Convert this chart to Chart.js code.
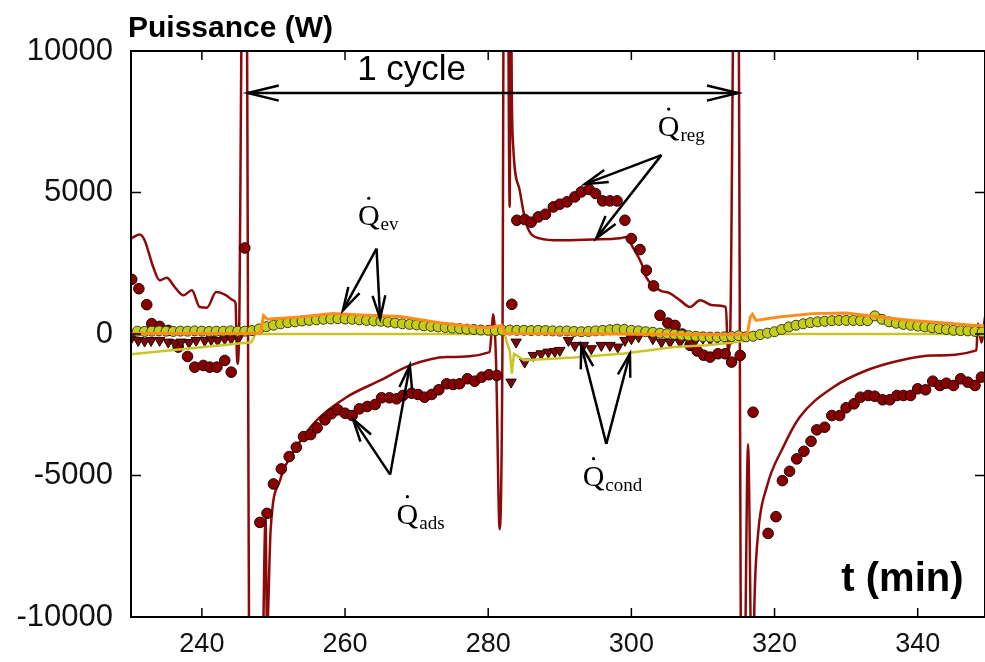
<!DOCTYPE html>
<html>
<head>
<meta charset="utf-8">
<title>Puissance (W)</title>
<script src="https://cdn.jsdelivr.net/npm/chart.js@4.4.1/dist/chart.umd.min.js"></script>
<style>
  html, body { margin: 0; padding: 0; background: #fff; overflow: hidden; }
  #chart { display: block; }
</style>
</head>
<body>
<canvas id="chart" width="985" height="662"></canvas>
<script>
// --- données ---
const xTicks = [240, 260, 280, 300, 320, 340];
const yTicks = [-10000, -5000, 0, 5000, 10000];

// Q ads / Q reg simulé (ligne rouge foncé)
const simT = [230.1, 231.3, 232.0, 233.2, 234.1, 235.1, 236.2, 237.4, 238.6, 239.7, 240.7, 242.0, 243.4, 244.4, 244.7,
  244.95, 245.2, 245.7, 246.2, 246.7, 248.3, 248.9, 249.1, 249.6, 250.9, 253.2, 256.0, 260.2, 264.9, 269.1, 274.2, 280.2,
  280.5, 280.7, 281.1, 281.6, 282.0, 282.2, 282.7, 283.0, 283.15, 283.3, 283.5, 284.4, 285.3, 287.2, 290.0, 294.6, 298.4,
  299.3, 300.2, 301.4, 302.1, 304.0, 305.4, 306.8, 308.2, 309.6, 311.4, 313.2, 313.5, 313.8, 314.4, 314.9, 315.4, 315.7,
  316.3, 316.9, 317.2, 317.7, 318.9, 321.2, 323.5, 328.2, 332.8, 337.5, 342.1, 348.2, 348.4, 348.9, 349.4];
const simQ = [3373, 3514, 3313, 2368, 1897, 1992, 1660, 1366, 1543, 952, 931, 1483, 1366, 1189, 1100,
  -1051, 0, 14000, 14000, -14000, -14000, -6500, -10500, -6950, -5181, -4002, -3058, -2233, -1642, -1111, -817, -640,
  200, 700, -1000, -6900, 0, 14000, 14000, 4500, 14000, 8400, 6600, 5075, 3900, 3380, 3310, 3340, 3380,
  3430, 3065, 2500, 2000, 1543, 1437, 1189, 952, 1189, 1012, 952, -580, 0, 14000, 14000, -14000, -14000,
  -3900, -14000, -9430, -7060, -5420, -4000, -2940, -1880, -1290, -934, -757, -580, 375, -300, 600];

// Q ads / Q reg mesuré (ronds rouges)
const measT = [230.2, 231.2, 232.3, 233.0, 234.1, 235.3, 236.7, 238.0, 239.0, 240.2, 241.1, 242.1, 243.2, 244.1, 246.0,
  248.1, 249.1, 250.0, 251.1, 252.2, 253.2, 254.2, 255.2, 256.1, 257.2, 258.1, 259.0, 260.0, 261.0, 262.0, 263.1, 264.2,
  265.1, 266.2, 267.2, 268.1, 269.3, 270.2, 271.1, 272.1, 273.1, 274.2, 275.1, 276.0, 277.1, 278.1, 279.1, 280.1, 281.2,
  283.3, 284.0, 285.1, 286.0, 287.0, 288.0, 289.1, 290.0, 291.0, 292.1, 293.0, 294.1, 295.0, 296.0, 297.0, 298.0, 299.1,
  300.0, 301.2, 302.1, 303.1, 304.0, 305.1, 306.1, 307.1, 308.2, 309.2, 310.1, 311.0, 312.1, 313.1, 314.0, 315.2,
  317.0, 319.1, 320.2, 321.1, 322.1, 323.1, 324.1, 325.1, 325.9, 327.0, 328.0, 329.1, 330.0, 331.1, 332.0, 333.1, 334.0,
  335.1, 336.1, 337.1, 338.0, 339.0, 340.0, 341.1, 342.1, 343.1, 344.0, 345.0, 346.0, 347.0, 348.0, 348.9];
const measQ = [1930, 1600, 1037, 365, 269, 127, -463, -793, -1171, -1111, -1171, -1171, -934, -1348, 3040,
  -6657, -6338, -5298, -4767, -4332, -4002, -3624, -3553, -3317, -3034, -2820, -2679, -2799, -2881, -2644, -2562, -2491,
  -2254, -2254, -2290, -2173, -2092, -2137, -2233, -2137, -1971, -1759, -1784, -1759, -1582, -1667, -1525, -1440, -1465,
  1048, 4020, 4045, 3950, 4137, 4233, 4491, 4587, 4668, 4845, 5022, 5107, 4965, 4703, 4703, 4703, 4020,
  3373, 2983, 2251, 1700, 658, 386, 304, 0, -400, -600, -750, -817, -698, -698, -993, -757,
  -2763, -7046, -6455, -5181, -4852, -4413, -4144, -3790, -3387, -3294, -2881, -2881, -2608, -2467, -2233, -2173, -2198,
  -2325, -2325, -2173, -2173, -2173, -1936, -1971, -1667, -1819, -1738, -1819, -1582, -1702, -1819, -1525];

// Q cond mesuré (triangles)
const condT = [230.1, 231.1, 232.0, 232.9, 234.1, 235.3, 236.2, 237.1, 238.2, 239.2, 240.4, 241.3, 242.2, 243.2, 244.1, 245.1,
  283.2, 283.9, 285.1, 286.3, 287.4, 288.4, 289.3, 290.0, 291.2, 292.1, 293.3, 294.4, 295.8, 297.0, 298.1, 299.1, 300.0,
  301.0, 303.0, 304.2, 305.4, 306.8, 307.9, 309.0, 310.0, 311.0, 312.0, 313.0, 314.0];
const condQ = [-167, -227, -250, -230, -227, -286, -321, -286, -300, -227, -227, -200, -230, -167, -167, -150,
  -1700, -286, -993, -757, -698, -640, -616, -580, -227, -403, -403, -521, -403, -403, -462, -227, -167,
  -100, -167, -286, -286, -286, -167, -200, -150, -200, -150, -100, -150];

// Q cond simulé (ligne jaune olive)
const condSimT = [230.1, 246.9, 247.5, 282.3, 282.6, 283.0, 283.3, 283.6, 284.2, 285.0, 292.0, 299.0, 306.0, 310.6, 314.4, 315.6, 316.0, 349.4];
const condSimQ = [-720, -290, 0, 0, -300, -580, -1400, -700, -800, -930, -830, -690, -460, -400, -290, -250, 0, 0];

// Q ev simulé (ligne orange)
const evSimT = [230.1, 245.0, 248.2, 248.6, 249.2, 250.0, 253.7, 258.3, 263.0, 267.7, 273.2, 278.8, 280.2, 281.9, 282.3,
  316.2, 316.6, 316.9, 317.4, 320.6, 325.3, 330.0, 334.6, 339.2, 343.9, 348.1, 349.4];
const evSimQ = [20, 20, 30, 650, 520, 540, 600, 720, 660, 620, 400, 230, 230, 300, 20,
  -30, 590, 700, 480, 600, 720, 740, 600, 480, 386, 304, 280];

// Q ev mesuré (ronds jaune-vert), un point par minute
const evT = [231, 232, 233, 234, 235, 236, 237, 238, 239, 240, 241, 242, 243, 244, 245, 246,
  247, 248, 249, 250, 251, 252, 253, 254, 255, 256, 257, 258, 259, 260, 261, 262, 263, 264, 265, 266, 267, 268, 269, 270,
  271, 272, 273, 274, 275, 276, 277, 278, 279, 280, 281, 282, 283, 284, 285, 286, 287, 288, 289, 290, 291, 292, 293, 294,
  295, 296, 297, 298, 299, 300, 301, 302, 303, 304, 305, 306, 307, 308, 309, 310, 311, 312, 313, 314, 315, 316, 317, 318,
  319, 320, 321, 322, 323, 324, 325, 326, 327, 328, 329, 330, 331, 332, 333, 334, 335, 336, 337, 338, 339, 340, 341, 342,
  343, 344, 345, 346, 347, 348, 349];
const evQ = [100, 90, 100, 110, 100, 90, 100, 100, 110, 100, 90, 100, 100, 110, 100, 100,
  120, 180, 260, 310, 360, 400, 430, 460, 480, 500, 520, 530, 540, 530, 520, 500, 480, 460, 450, 420, 390, 360, 340, 320,
  290, 270, 250, 230, 210, 190, 170, 160, 140, 130, 120, 130, 140, 130, 130, 120, 130, 120, 110, 100, 110, 90, 80, 90,
  110, 130, 150, 170, 160, 130, 110, 80, 60, 30, 10, -10, -40, -60, -80, -100, -110, -110, -100, -90, -60, -100, -80, -20,
  30, 80, 160, 250, 310, 360, 400, 430, 450, 470, 480, 480, 480, 470, 470, 640, 520, 430, 380, 340, 310, 280, 250, 220,
  190, 160, 130, 120, 110, 90, 70];

// --- annotations (en unités de données) ---
const cycleArrow = { from: 246.4, to: 314.9, y: 8515 };
const cycleLabel = { x: 269.3, y: 8975, text: '1 cycle' };
const qLabels = [
  { x: 303.7, y: 6993, sub: 'reg' },
  { x: 261.8, y: 3843, sub: 'ev' },
  { x: 267.2, y: -6703, sub: 'ads' },
  { x: 293.2, y: -5358, sub: 'cond' }
];
const qArrows = [
  { apex: [304.2, 6321], tips: [[293.5, 5294], [295.1, 3383]] },
  { apex: [264.4, 3019], tips: [[259.7, 835], [264.9, 541]] },
  { apex: [266.3, -4969], tips: [[261.1, -2998], [269.05, -1111]] },
  { apex: [296.5, -3882], tips: [[293.0, -403], [299.8, -697]] }
];
const timeLabel = { x: 346.4, y: -9074, text: 't (min)' };

const zip = (t, q) => t.map((v, i) => ({ x: v, y: q[i] }));

function arrowHead(ctx, fx, fy, tx, ty, len, spread) {
    const ang = Math.atan2(ty - fy, tx - fx);
    ctx.beginPath();
    ctx.moveTo(tx - len * Math.cos(ang - spread), ty - len * Math.sin(ang - spread));
    ctx.lineTo(tx, ty);
    ctx.lineTo(tx - len * Math.cos(ang + spread), ty - len * Math.sin(ang + spread));
    ctx.stroke();
}

// cadre, graduations intérieures et textes
const decorPlugin = {
    id: 'decor',
    afterDraw(chart) {
        const { ctx, chartArea: a, scales: { x, y } } = chart;
        ctx.save();
        ctx.strokeStyle = '#000';
        ctx.fillStyle = '#000';

        ctx.lineWidth = 2;
        ctx.strokeRect(a.left, a.top, a.right - a.left, a.bottom - a.top);

        ctx.lineWidth = 1.5;
        ctx.beginPath();
        xTicks.forEach(v => {
            const px = x.getPixelForValue(v);
            ctx.moveTo(px, a.bottom); ctx.lineTo(px, a.bottom - 9);
            ctx.moveTo(px, a.top); ctx.lineTo(px, a.top + 9);
        });
        yTicks.forEach(v => {
            const py = y.getPixelForValue(v);
            ctx.moveTo(a.left, py); ctx.lineTo(a.left + 10, py);
            ctx.moveTo(a.right, py); ctx.lineTo(a.right - 10, py);
        });
        ctx.stroke();

        // titre de l'axe vertical
        ctx.font = 'bold 30px "Liberation Sans", Arial, sans-serif';
        ctx.textAlign = 'left';
        ctx.textBaseline = 'alphabetic';
        ctx.fillText('Puissance (W)', a.left - 3, a.top - 14);

        // titre de l'axe horizontal
        ctx.font = 'bold 40px "Liberation Sans", Arial, sans-serif';
        ctx.textAlign = 'right';
        ctx.fillText(timeLabel.text, x.getPixelForValue(timeLabel.x), y.getPixelForValue(timeLabel.y));

        // flèche "1 cycle"
        ctx.lineWidth = 2.5;
        const cy = y.getPixelForValue(cycleArrow.y);
        const c1 = x.getPixelForValue(cycleArrow.from);
        const c2 = x.getPixelForValue(cycleArrow.to);
        ctx.beginPath(); ctx.moveTo(c1, cy); ctx.lineTo(c2, cy); ctx.stroke();
        arrowHead(ctx, c2, cy, c1, cy, 32, 0.24);
        arrowHead(ctx, c1, cy, c2, cy, 32, 0.24);
        ctx.font = '35px "Liberation Sans", Arial, sans-serif';
        ctx.textAlign = 'center';
        ctx.fillText(cycleLabel.text, x.getPixelForValue(cycleLabel.x), y.getPixelForValue(cycleLabel.y));

        // flèches des étiquettes Q
        ctx.lineWidth = 2.5;
        qArrows.forEach(ar => {
            const ax = x.getPixelForValue(ar.apex[0]);
            const ay = y.getPixelForValue(ar.apex[1]);
            ar.tips.forEach(t => {
                const tx = x.getPixelForValue(t[0]);
                const ty = y.getPixelForValue(t[1]);
                ctx.beginPath(); ctx.moveTo(ax, ay); ctx.lineTo(tx, ty); ctx.stroke();
                arrowHead(ctx, ax, ay, tx, ty, 24, 0.27);
            });
        });

        // étiquettes Q point
        ctx.textAlign = 'left';
        qLabels.forEach(l => {
            const px = x.getPixelForValue(l.x);
            const py = y.getPixelForValue(l.y);
            ctx.font = '30px "Liberation Serif", "Times New Roman", serif';
            ctx.fillText('Q', px, py);
            const w = ctx.measureText('Q').width;
            ctx.beginPath();
            ctx.arc(px + w / 2, py - 27, 1.6, 0, Math.PI * 2);
            ctx.fill();
            ctx.font = '19px "Liberation Serif", "Times New Roman", serif';
            ctx.fillText(l.sub, px + w + 1, py + 5);
        });

        ctx.restore();
    }
};

const ctx = document.getElementById('chart').getContext('2d');
new Chart(ctx, {
    type: 'scatter',
    data: {
        datasets: [{
            label: 'Qev simulé',
            data: zip(evSimT, evSimQ),
            showLine: true,
            borderColor: '#ff8d1e',
            borderWidth: 3,
            pointRadius: 0,
            order: 0
        }, {
            label: 'Qev mesuré',
            data: zip(evT, evQ),
            pointRadius: 5,
            backgroundColor: '#c4cc1c',
            borderColor: '#3a3a10',
            borderWidth: 1,
            order: 1
        }, {
            label: 'Qcond simulé',
            data: zip(condSimT, condSimQ),
            showLine: true,
            borderColor: '#c9c526',
            borderWidth: 2.5,
            pointRadius: 0,
            order: 2
        }, {
            label: 'Qcond mesuré',
            data: zip(condT, condQ),
            pointStyle: 'triangle',
            rotation: 180,
            pointRadius: 6,
            backgroundColor: '#7a0a0a',
            borderColor: '#2a0000',
            borderWidth: 1,
            order: 3
        }, {
            label: 'Qads/Qreg mesuré',
            data: zip(measT, measQ),
            pointRadius: 5.3,
            backgroundColor: '#880000',
            borderColor: '#220000',
            borderWidth: 1,
            order: 4
        }, {
            label: 'Qads/Qreg simulé',
            data: zip(simT, simQ),
            showLine: true,
            borderColor: '#8c0a0a',
            borderWidth: 2.5,
            pointRadius: 0,
            cubicInterpolationMode: 'monotone',
            order: 5
        }]
    },
    options: {
        responsive: false,
        animation: false,
        layout: { autoPadding: false, padding: { top: 51, right: 0, left: 0, bottom: 0 } },
        plugins: {
            legend: { display: false },
            tooltip: { enabled: false }
        },
        scales: {
            x: {
                type: 'linear',
                min: 230.1,
                max: 349.4,
                grid: { display: false, drawTicks: false },
                border: { display: false },
                ticks: {
                    font: { family: '"Liberation Sans", Arial, sans-serif', size: 27 },
                    color: '#111',
                    padding: 11,
                    maxRotation: 0
                },
                afterBuildTicks: s => { s.ticks = xTicks.map(v => ({ value: v })); },
                afterFit: s => { s.height = 45; s.paddingLeft = 0; s.paddingRight = 0; }
            },
            y: {
                min: -10000,
                max: 10000,
                grid: { display: false, drawTicks: false },
                border: { display: false },
                ticks: {
                    font: { family: '"Liberation Sans", Arial, sans-serif', size: 31 },
                    color: '#111',
                    padding: 18,
                    callback: v => String(v)
                },
                afterBuildTicks: s => { s.ticks = yTicks.map(v => ({ value: v })); },
                afterFit: s => { s.width = 131; s.paddingTop = 0; s.paddingBottom = 0; }
            }
        }
    },
    plugins: [decorPlugin]
});
</script>
</body>
</html>
